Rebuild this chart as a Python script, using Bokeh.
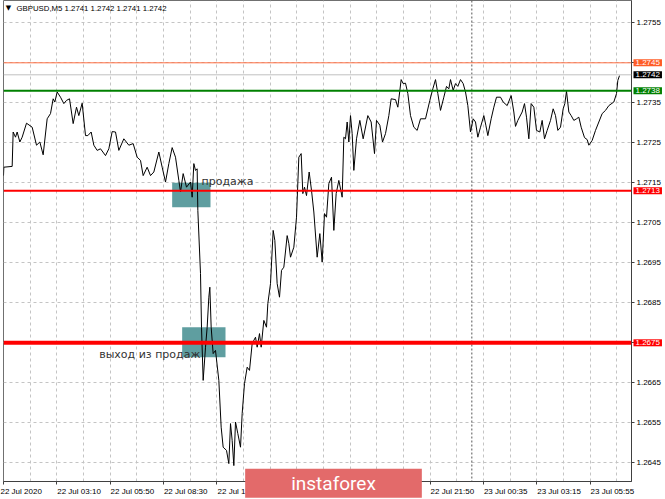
from bokeh.plotting import figure
from bokeh.models import Range1d, FixedTicker, Span, Label, ColumnDataSource
from bokeh.embed import file_html
from bokeh.resources import INLINE
from bokeh.core.properties import value

# ---- data (bar index, price) ----
bars = [
    0, 0.2, 5.2, 5.8, 7.2, 8.2, 9.8, 11.2, 13.8, 17.2,
    19.8, 21.8, 23.8, 26.2, 28.2, 29.8, 30.8, 32.2, 34.2, 36.2,
    37.8, 39.6, 41.8, 43.8, 45.2, 47.2, 49.2, 50.6, 52.6, 54.2,
    56.2, 58.2, 61.2, 63.2, 65.2, 67.2, 69.2, 72.2, 75.2, 77.8,
    80.2, 82.2, 83.8, 86.2, 88.2, 90.2, 93.2, 95.2, 97.2, 99.2,
    101.2, 103.2, 105.2, 106.2, 107.8, 109.8, 112.2, 113.2, 114.2, 115.2,
    116.2, 116.6, 118.2, 118.8, 119.8, 121.2, 122.2, 123.2, 123.8, 124.6,
    125.8, 127.2, 129.2, 130.6, 131.8, 133.8, 135.2, 136.2, 137.2, 138.2,
    139.2, 140.6, 142.2, 143.2, 144.6, 146.2, 147.6, 149.2, 151.2, 152.2,
    153.6, 154.6, 156.2, 157.8, 158.6, 160.2, 161.8, 162.8, 164.2, 165.6,
    166.8, 168.2, 170.2, 171.2, 172.2, 174.2, 175.8, 177.2, 178.6, 179.6,
    180.6, 181.8, 183.4, 184.8, 186.2, 188.2, 189.8, 191.2, 192.6, 193.8,
    195.2, 196.8, 198.2, 199.6, 201.2, 203.2, 204.2, 205.2, 206.2, 207.2,
    208.2, 209.2, 210.2, 211.8, 213.8, 215.8, 218.6, 220.6, 222.6, 223.8,
    225.8, 227.4, 229.2, 231.2, 232.6, 235.2, 236.6, 238.6, 239.8, 241.2,
    242.6, 244.2, 246.2, 248.2, 250.2, 253.2, 255.8, 257.6, 259.2, 260.6,
    262.2, 264.2, 265.8, 267.2, 268.2, 269.8, 271.2, 272.6, 274.2, 275.8,
    277.2, 278.6, 280.2, 281.8, 283.2, 284.6, 286.2, 288.2, 289.4, 290.6,
    292.6, 294.2, 295.8, 298.2, 299.8, 302.2, 304.6, 306.2, 307.2, 308.6,
    311.2, 312.6, 313.8, 315.2, 316.6, 318.2, 319.8, 321.8, 323.2, 324.6,
    326.2, 328.2, 329.8, 331.2, 332.6, 334.2, 335.8, 336.8, 337.8, 339.2,
    340.6, 342.2, 343.8, 345.2, 346.6, 348.6, 350.2, 351.2, 353.2, 355.2,
    357.2, 359.2, 361.2, 363.2, 366.2, 367.8, 368.6, 369.6,
]
prices = [
    1.27168, 1.27189, 1.27191, 1.27277, 1.27264, 1.27277, 1.27252, 1.27264, 1.27299, 1.27289,
    1.27244, 1.27252, 1.27220, 1.27310, 1.27323, 1.27360, 1.27352, 1.27377, 1.27364, 1.27348,
    1.27356, 1.27360, 1.27298, 1.27339, 1.27318, 1.27349, 1.27268, 1.27268, 1.27277, 1.27244,
    1.27231, 1.27235, 1.27218, 1.27235, 1.27278, 1.27277, 1.27231, 1.27260, 1.27244, 1.27248,
    1.27214, 1.27206, 1.27168, 1.27189, 1.27168, 1.27177, 1.27227, 1.27189, 1.27152, 1.27198,
    1.27238, 1.27214, 1.27156, 1.27127, 1.27173, 1.27139, 1.27152, 1.27114, 1.27198, 1.27181,
    1.27185, 1.27081, 1.26923, 1.26789, 1.26656, 1.26739, 1.26789, 1.26864, 1.26889, 1.26789,
    1.26723, 1.26731, 1.26656, 1.26539, 1.26489, 1.26481, 1.26448, 1.26548, 1.26506, 1.26443,
    1.26552, 1.26523, 1.26489, 1.26573, 1.26648, 1.26689, 1.26681, 1.26748, 1.26764, 1.26739,
    1.26773, 1.26739, 1.26806, 1.26789, 1.26848, 1.26898, 1.27031, 1.27006, 1.26898, 1.26864,
    1.26931, 1.26939, 1.27018, 1.26998, 1.26964, 1.26989, 1.27064, 1.27214, 1.27223, 1.27123,
    1.27139, 1.27118, 1.27177, 1.27131, 1.27077, 1.26964, 1.27023, 1.26952, 1.27073, 1.27064,
    1.27148, 1.27164, 1.27031, 1.27123, 1.27156, 1.27114, 1.27264, 1.27260, 1.27302, 1.27252,
    1.27318, 1.27273, 1.27181, 1.27260, 1.27306, 1.27260, 1.27318, 1.27302, 1.27223, 1.27306,
    1.27294, 1.27252, 1.27273, 1.27318, 1.27360, 1.27358, 1.27339, 1.27408, 1.27398, 1.27399,
    1.27373, 1.27318, 1.27289, 1.27281, 1.27310, 1.27310, 1.27356, 1.27385, 1.27408, 1.27373,
    1.27331, 1.27364, 1.27391, 1.27385, 1.27408, 1.27381, 1.27398, 1.27391, 1.27408, 1.27398,
    1.27377, 1.27343, 1.27277, 1.27310, 1.27302, 1.27264, 1.27289, 1.27318, 1.27294, 1.27268,
    1.27310, 1.27339, 1.27364, 1.27364, 1.27352, 1.27343, 1.27368, 1.27327, 1.27291, 1.27306,
    1.27327, 1.27348, 1.27314, 1.27260, 1.27348, 1.27339, 1.27281, 1.27277, 1.27306, 1.27260,
    1.27281, 1.27306, 1.27335, 1.27318, 1.27281, 1.27289, 1.27335, 1.27348, 1.27379, 1.27327,
    1.27318, 1.27306, 1.27310, 1.27314, 1.27289, 1.27263, 1.27258, 1.27244, 1.27256, 1.27281,
    1.27302, 1.27323, 1.27331, 1.27343, 1.27352, 1.27373, 1.27406, 1.27418,
]
n = min(len(bars), len(prices))
bars, prices = bars[:n], prices[:n]

x_tick_bars = [0, 32, 64, 96, 128, 160, 192, 224, 256, 288, 320, 352]
x_tick_labels = ["22 Jul 2020", "22 Jul 03:10", "22 Jul 05:50", "22 Jul 08:30",
                 "22 Jul 11:10", "22 Jul 13:50", "22 Jul 16:30", "22 Jul 19:10",
                 "22 Jul 21:50", "23 Jul 00:35", "23 Jul 03:15", "23 Jul 05:55"]
x_grid_bars = [16 * k for k in range(24)]
y_ticks = [1.2645, 1.2655, 1.2665, 1.2675, 1.2685, 1.2695,
           1.2705, 1.2715, 1.2725, 1.2735, 1.2745, 1.2755]
y_tick_labels = ["1.2645", "1.2655", "1.2665", "1.2675", "1.2685", "1.2695",
                 "1.2705", "1.2715", "1.2725", "1.2735", "1.2745", "1.2755"]

level_prices = [1.2745, 1.2742, 1.2738, 1.2713, 1.2675]
level_labels = ["1.2745", "1.2742", "1.2738", "1.2713", "1.2675"]
level_colors = ["#ff7043", "#c0c0c0", "#008000", "#ff0000", "#ff0000"]
level_box_colors = ["#ff5c26", "#000000", "#008000", "#ff0000", "#ff0000"]
level_widths = [1, 1, 2, 2, 4]

zone_left = [101.2, 107.2]
zone_right = [124.2, 133.2]
zone_bottom = [1.27089, 1.26714]
zone_top = [1.27150, 1.26789]

note_text = ["продажа", "выход из продаж"]
note_bar = [118.8, 57.4]
note_price = [1.27154, 1.26720]

separator_bar = 281
title_text = "GBPUSD,M5  1.2741 1.2742 1.2741 1.2742"

W, H = 665, 499
X0, X1 = 0, 376.8
Y0, Y1 = 1.2640325, 1.2760575
AXIS_FONT = "Liberation Sans"
AXIS_SIZE = "8px"

# MetaTrader prints the time labels starting at the tick; Bokeh centres them,
# so pad each label on the left with no-break spaces of the same width.
_em = {" ": 0.278, "J": 0.5, "u": 0.556, "l": 0.222, ":": 0.278}
def left_start(label):
    width = sum(_em.get(c, 0.556) for c in label)
    return "\u00a0" * int(round(width / 0.278)) + label

# ---- main chart ----
p = figure(width=W, height=H, x_range=Range1d(X0, X1), y_range=Range1d(Y0, Y1),
           y_axis_location="right", output_backend="svg", toolbar_location=None,
           min_border_left=3, min_border_right=34, min_border_top=0, min_border_bottom=18)
p.background_fill_color = "white"
p.border_fill_color = "white"
p.outline_line_color = "#707070"

p.xaxis.ticker = FixedTicker(ticks=x_tick_bars)
p.xaxis.major_label_overrides = {t: (left_start(l) if t > X0 else l)
                                 for t, l in zip(x_tick_bars, x_tick_labels)}
p.yaxis.ticker = FixedTicker(ticks=y_ticks)
p.yaxis.major_label_overrides = {t: l for t, l in zip(y_ticks, y_tick_labels)}
for ax in (p.xaxis[0], p.yaxis[0]):
    ax.major_label_text_font = AXIS_FONT
    ax.major_label_text_font_size = AXIS_SIZE
    ax.major_label_text_color = "#000000"
    ax.major_tick_out = 3
    ax.major_tick_in = 0
    ax.minor_tick_out = 0
    ax.minor_tick_in = 0
    ax.major_label_standoff = 2
    ax.axis_line_color = "#404040"
    ax.major_tick_line_color = "#404040"

p.xgrid.ticker = FixedTicker(ticks=x_grid_bars)
for g in (p.xgrid[0], p.ygrid[0]):
    g.grid_line_color = "#c4c4c4"
    g.grid_line_dash = "3 3"
    g.grid_line_width = 1

p.add_layout(Span(location=separator_bar, dimension="height", line_color="#555555",
                  line_dash="2 2", line_width=1, level="underlay"))

zones = ColumnDataSource(dict(left=zone_left, right=zone_right, bottom=zone_bottom, top=zone_top))
p.quad(left="left", right="right", bottom="bottom", top="top", source=zones,
       fill_color="#5f9ea0", line_color=None)

p.line(bars, prices, line_color="#000000", line_width=1)

for lp, lc, lw in zip(level_prices, level_colors, level_widths):
    p.add_layout(Span(location=lp, dimension="width", line_color=lc, line_width=lw))

notes = ColumnDataSource(dict(x=note_bar, y=note_price, t=note_text))
p.text(x="x", y="y", text="t", source=notes, text_font=value("DejaVu Sans"),
       text_font_size="11px", text_color="#333333", text_baseline="alphabetic",
       text_align="left")

p.add_layout(Label(x=3, y=1.27586, text="▼", text_font="DejaVu Sans", text_font_size="7px",
                   text_color="#000000", text_align="center", text_baseline="middle"))
p.add_layout(Label(x=7.8, y=1.27586, text=title_text, text_font=AXIS_FONT,
                   text_font_size="7.8px", text_color="#000000", text_align="left",
                   text_baseline="middle"))

# ---- transparent overlay (separate root) with the same scales over the whole canvas ----
bar_px = (W - 3 - 34) / (X1 - X0)
price_px = (H - 18) / (Y1 - Y0)
ox = Range1d(X0 - 3 / bar_px, X0 + (W - 3) / bar_px)
oy = Range1d(Y0 - 18 / price_px, Y1)
q = figure(width=W, height=H, x_range=ox, y_range=oy, x_axis_type=None, y_axis_type=None,
           output_backend="svg", toolbar_location=None,
           min_border_left=0, min_border_right=0, min_border_top=0, min_border_bottom=0)
q.grid.visible = False
q.background_fill_alpha = 0
q.border_fill_alpha = 0
q.outline_line_color = None
q.margin = (-H, 0, 0, 0)

for lp, ll, bc in zip(level_prices, level_labels, level_box_colors):
    q.add_layout(Label(x=378, y=lp, text=ll, text_font=AXIS_FONT,
                       text_font_size=AXIS_SIZE, text_color="white",
                       text_align="left", text_baseline="middle",
                       background_fill_color=bc, padding=(2, 1)))

q.add_layout(Label(x=198, y=1.26399, text="instaforex", text_font="Roboto",
                   text_font_size="19px", text_color="white", text_align="center",
                   text_baseline="middle", background_fill_color="#e36a6a",
                   padding=(46, 3)))

open("out.html", "w").write(file_html([p, q], INLINE))
